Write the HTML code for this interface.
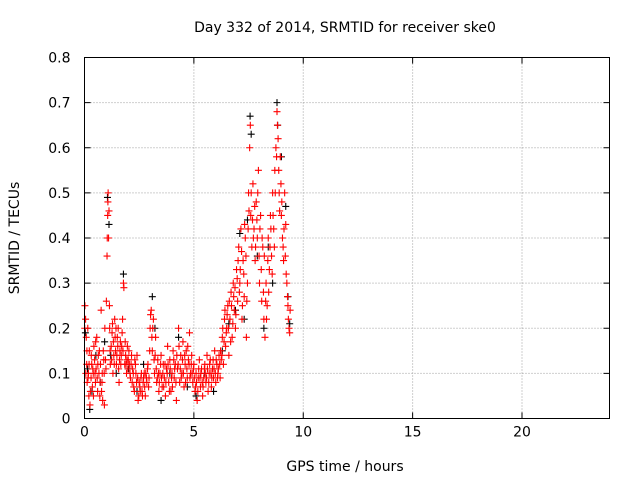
<!DOCTYPE html>
<html><head><meta charset="utf-8"><style>
body{margin:0;background:#fff;}
svg{display:block;font-family:"DejaVu Sans","Liberation Sans",sans-serif;}
</style></head><body>
<svg id="chart" width="640" height="480" viewBox="0 0 640 480">
<text x="345" y="32" font-size="14" text-anchor="middle">Day 332 of 2014, SRMTID for receiver ske0</text>
<text transform="translate(19,238) rotate(-90)" font-size="14" text-anchor="middle">SRMTID / TECUs</text>
<text x="345" y="471" font-size="14" text-anchor="middle">GPS time / hours</text>
<g id="grid"></g><g id="ticks"></g><g id="black"></g><g id="red"></g>
<rect x="84.5" y="57.5" width="525" height="361" fill="none" stroke="#000"/>
</svg>
<script>
const xTicks=[0,5,10,15,20];
const yTicks=[0,0.1,0.2,0.3,0.4,0.5,0.6,0.7,0.8];
const yTickLabels=["0","0.1","0.2","0.3","0.4","0.5","0.6","0.7","0.8"];
const redT=[0.02,0.05,0.08,0.1,0.12,0.15,0.18,0.2,0.22,0.25,0.3,0.33,0.36,0.4,0.43,0.46,0.5,0.53,0.56,0.6,0.63,0.66,0.7,0.73,0.76,0.8,0.83,0.86,0.9,0.93,0.96,1.0,1.03,1.06,1.08,1.1,1.12,1.15,1.18,1.22,1.26,1.3,1.34,1.38,1.42,1.46,1.5,1.54,1.58,1.62,1.66,1.7,1.74,1.78,1.8,1.84,1.88,1.92,1.96,2.0,2.05,2.1,2.15,2.2,2.25,2.3,2.35,2.4,2.45,2.5,2.55,2.6,2.65,2.7,2.75,2.8,2.85,2.9,2.95,3.0,3.05,3.1,3.15,3.2,3.25,3.3,3.35,3.4,3.45,3.5,3.55,3.6,3.65,3.7,3.75,3.8,3.85,3.9,3.95,4.0,4.05,4.1,4.15,4.2,4.25,4.3,4.35,4.4,4.45,4.5,4.55,4.6,4.65,4.7,4.75,4.8,4.85,4.9,4.95,5.0,5.05,5.1,5.15,5.2,5.25,5.3,5.35,5.4,5.45,5.5,5.55,5.6,5.65,5.7,5.75,5.8,5.85,5.9,5.95,6.0,6.05,6.1,6.15,6.2,6.25,6.3,6.35,6.4,6.45,6.5,6.55,6.6,6.65,6.7,6.75,6.8,6.85,6.9,6.95,7.0,7.05,7.1,7.15,7.2,7.25,7.3,7.35,7.4,7.45,7.5,7.55,7.58,7.6,7.65,7.7,7.75,7.8,7.85,7.9,7.95,8.0,8.05,8.1,8.15,8.2,8.25,8.3,8.35,8.4,8.45,8.5,8.55,8.6,8.65,8.7,8.75,8.8,8.85,8.9,8.95,9.0,9.05,9.1,9.15,9.2,9.25,9.3,9.35,9.4];
const redV=[.25,.22,.18,.12,.08,.2,.1,.05,.15,.03,.09,.12,.07,.1,.16,.13,.08,.11,.18,.06,.14,.1,.05,.12,.24,.08,.04,.15,.1,.2,.13,.26,.36,.45,.5,.4,.46,.2,.12,.16,.19,.1,.14,.22,.15,.12,.18,.2,.08,.15,.12,.16,.22,.3,.29,.12,.14,.1,.16,.13,.12,.09,.14,.11,.07,.13,.1,.14,.04,.08,.06,.1,.05,.09,.07,.1,.08,.12,.09,.2,.24,.15,.22,.1,.18,.08,.13,.06,.1,.14,.07,.12,.09,.05,.11,.16,.08,.13,.06,.1,.15,.09,.12,.04,.11,.2,.08,.14,.1,.17,.07,.12,.15,.09,.13,.19,.1,.14,.08,.12,.06,.1,.04,.09,.13,.07,.11,.05,.09,.12,.08,.14,.06,.1,.13,.07,.11,.09,.15,.08,.12,.1,.14,.09,.13,.18,.12,.22,.16,.2,.25,.14,.22,.28,.18,.3,.24,.2,.33,.26,.38,.3,.42,.22,.35,.27,.4,.18,.3,.5,.6,.65,.45,.38,.52,.42,.35,.48,.4,.55,.3,.45,.26,.38,.22,.18,.3,.25,.4,.33,.45,.36,.5,.42,.55,.6,.68,.62,.5,.58,.45,.4,.35,.5,.43,.3,.25,.2,.24];
const redT2=[0.01,0.06,0.11,0.16,0.21,0.27,0.31,0.38,0.41,0.48,0.51,0.58,0.61,0.68,0.71,0.78,0.81,0.88,0.91,0.98,1.04,1.07,1.14,1.17,1.24,1.28,1.32,1.36,1.4,1.44,1.48,1.52,1.56,1.6,1.64,1.68,1.72,1.76,1.86,1.9,1.94,1.98,2.03,2.08,2.13,2.18,2.23,2.28,2.33,2.38,2.43,2.48,2.53,2.58,2.63,2.68,2.73,2.78,2.83,2.88,2.93,2.98,3.02,3.08,3.12,3.18,3.23,3.28,3.33,3.38,3.42,3.48,3.52,3.58,3.62,3.68,3.72,3.78,3.82,3.88,3.92,3.98,4.02,4.08,4.12,4.18,4.22,4.28,4.32,4.38,4.42,4.48,4.52,4.58,4.62,4.68,4.72,4.78,4.82,4.88,4.92,4.98,5.02,5.08,5.12,5.18,5.22,5.28,5.32,5.38,5.42,5.48,5.52,5.58,5.62,5.68,5.72,5.78,5.82,5.88,5.92,5.98,6.02,6.08,6.12,6.18,6.22,6.28,6.32,6.38,6.42,6.48,6.52,6.58,6.62,6.68,6.72,6.78,6.82,6.88,6.92,6.98,7.02,7.08,7.12,7.18,7.22,7.28,7.32,7.38,7.42,7.48,7.52,7.62,7.68,7.72,7.78,7.82,7.88,7.92,7.98,8.02,8.08,8.12,8.18,8.22,8.28,8.32,8.38,8.42,8.48,8.52,8.58,8.62,8.68,8.72,8.78,8.82,8.88,8.92,8.98,9.02,9.08,9.12,9.18,9.22,9.28,9.32,9.38];
const redV2=[.2,.1,.15,.09,.12,.06,.14,.11,.05,.1,.17,.09,.12,.15,.08,.06,.1,.13,.03,.11,.4,.48,.25,.15,.13,.21,.17,.12,.18,.2,.14,.16,.11,.13,.17,.14,.19,.15,.17,.12,.13,.11,.15,.1,.12,.08,.1,.06,.12,.08,.09,.05,.07,.09,.06,.08,.1,.05,.09,.11,.07,.15,.23,.18,.2,.13,.14,.11,.09,.1,.08,.12,.09,.1,.07,.12,.08,.1,.12,.06,.11,.09,.07,.13,.11,.08,.14,.12,.16,.11,.09,.13,.1,.14,.08,.11,.16,.12,.09,.12,.1,.11,.09,.07,.08,.06,.11,.09,.1,.08,.07,.11,.1,.09,.11,.08,.12,.1,.09,.13,.11,.1,.13,.09,.11,.12,.15,.14,.2,.17,.24,.19,.23,.2,.26,.17,.25,.21,.27,.29,.23,.31,.35,.28,.33,.37,.25,.32,.43,.36,.26,.42,.46,.5,.44,.4,.47,.38,.44,.5,.36,.42,.33,.4,.28,.36,.26,.22,.35,.28,.38,.42,.32,.45,.38,.5,.58,.65,.55,.46,.52,.48,.38,.42,.36,.32,.27,.22,.19];
const blackT=[0.04,0.14,0.24,0.34,0.52,0.72,0.92,1.05,1.12,1.2,1.45,1.78,2.02,2.4,2.7,3.1,3.22,3.5,3.9,4.3,4.7,5.1,5.5,5.9,6.3,6.6,6.9,7.1,7.3,7.45,7.57,7.62,7.9,8.2,8.4,8.6,8.8,8.83,9.0,9.2,9.3,9.38];
const blackV=[.19,.11,.02,.06,.14,.08,.17,.49,.43,.14,.1,.32,.11,.06,.12,.27,.2,.04,.1,.18,.07,.05,.1,.06,.15,.21,.24,.41,.22,.44,.67,.63,.36,.2,.38,.3,.7,.65,.58,.47,.27,.21];
const X0=84.5,X1=609.5,Y0=418.5,Y1=57.5;
const xs=t=>X0+(t/24)*(X1-X0);
const ys=v=>Y0-(v/0.8)*(Y0-Y1);
const NS="http://www.w3.org/2000/svg";
function mk(tag,attrs,parent){const e=document.createElementNS(NS,tag);for(const k in attrs)e.setAttribute(k,attrs[k]);parent.appendChild(e);return e;}
const grid=document.getElementById('grid'),ticks=document.getElementById('ticks');
xTicks.forEach(t=>{const x=xs(t);
 if(t>0){const g=mk('line',{x1:x,x2:x,y1:Y1,y2:Y0,stroke:'#a0a0a0','stroke-dasharray':'1,2'},grid);
 
 }
 const tx=mk('text',{x:x,y:Y0+18,'font-size':14,'text-anchor':'middle'},ticks);tx.textContent=t;
 
 
 mk('line',{x1:x,x2:x,y1:Y0,y2:Y0-6,stroke:'#000'},ticks);mk('line',{x1:x,x2:x,y1:Y1,y2:Y1+6,stroke:'#000'},ticks);});
yTicks.forEach((v,i)=>{const y=ys(v);
 if(v>0&&v<0.8){const g=mk('line',{x1:X0,x2:X1,y1:y,y2:y,stroke:'#a0a0a0','stroke-dasharray':'1,2'},grid);
 
 }
 const tx=mk('text',{x:X0-14,y:y+5,'font-size':14,'text-anchor':'end'},ticks);tx.textContent=yTickLabels[i];
 
 
 mk('line',{x1:X0,x2:X0+6,y1:y,y2:y,stroke:'#000'},ticks);mk('line',{x1:X1,x2:X1-6,y1:y,y2:y,stroke:'#000'},ticks);});
function plus(g,t,v,c){const x=xs(t),y=ys(v);
 const p=mk('path',{d:`M${x-3.5},${y}H${x+3.5}M${x},${y-3.5}V${y+3.5}`,stroke:c,'stroke-width':1.1,fill:'none'},g);
 
 }
const bg=document.getElementById('black'),rg=document.getElementById('red');
blackT.forEach((t,i)=>plus(bg,t,blackV[i],'#000'));
redT.forEach((t,i)=>plus(rg,t,redV[i],'#ff0000'));
redT2.forEach((t,i)=>plus(rg,t,redV2[i],'#ff0000'));
</script>
</body></html>
